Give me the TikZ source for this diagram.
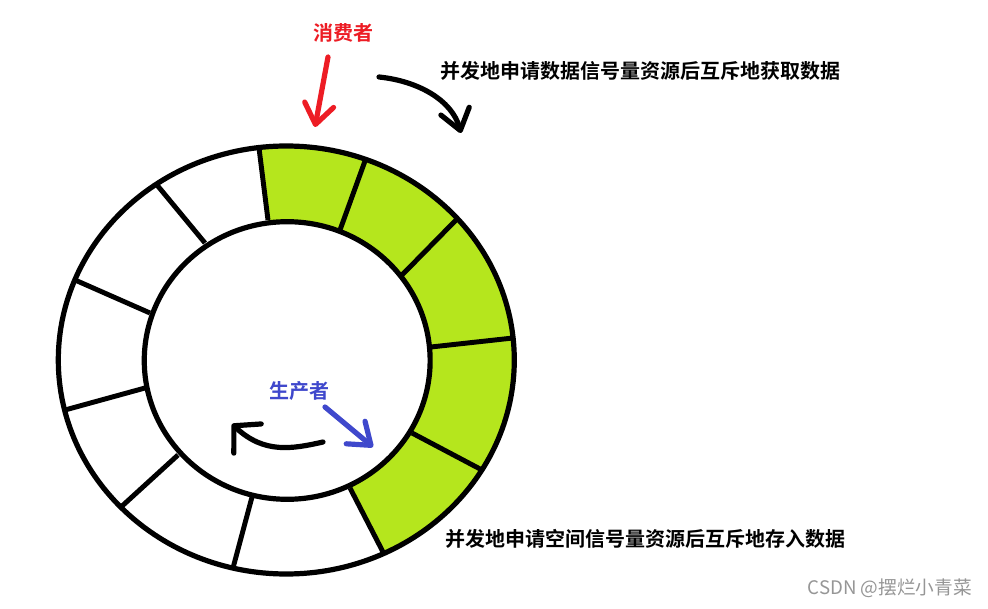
\documentclass[tikz,border=0pt]{standalone}
\usepackage{fontspec}
\setmainfont{Noto Sans CJK SC}[BoldFont={Noto Sans CJK SC Bold}]
\usetikzlibrary{arrows.meta}
\definecolor{lime}{RGB}{181,230,29}
\definecolor{pred}{RGB}{237,28,36}
\definecolor{pblue}{RGB}{63,72,204}
\definecolor{wm}{RGB}{150,150,150}
\begin{document}
\begin{tikzpicture}[x=0.75pt,y=-0.75pt,
  ring/.style={line width=3.9pt},
  divider/.style={line width=3.7pt},
  hand/.style={line width=3.9pt, line cap=round,
    -{Straight Barb[length=15pt,width=22pt,line cap=round,line join=round]}},
  widehand/.style={line width=3.9pt, line cap=round,
    -{Straight Barb[length=14pt,width=30pt,line cap=round,line join=round]}},
  lbl/.style={font=\bfseries\fontsize{15pt}{18pt}\selectfont, inner sep=0pt},
]
\useasboundingbox (0,0) rectangle (988,609);
\fill[white] (0,0) rectangle (988,609);

% ring centres
\coordinate (oc) at (286.3,360);
\coordinate (ic) at (287.2,360.5);

% divider end points (inner, outer)
\coordinate (d1i) at (268,220);  \coordinate (d1o) at (259,148);
\coordinate (d2i) at (340,230);  \coordinate (d2o) at (365,161);
\coordinate (d3i) at (402,275);  \coordinate (d3o) at (457,219);
\coordinate (d4i) at (431,347);  \coordinate (d4o) at (513,338);
\coordinate (d5i) at (412,433);  \coordinate (d5o) at (482,470);
\coordinate (d6i) at (350,488);  \coordinate (d6o) at (383,552);
\coordinate (d7i) at (252,497);  \coordinate (d7o) at (233,568);
\coordinate (d8i) at (178,455);  \coordinate (d8o) at (121,507);
\coordinate (d9i) at (145,388);  \coordinate (d9o) at (65,410);
\coordinate (d10i) at (150,313); \coordinate (d10o) at (75,280);
\coordinate (d11i) at (205,243); \coordinate (d11o) at (157,185);

% green (filled) slots
\begin{scope}
  \clip (d1i) -- (255.4,119.2) -- (375,133.4) -- (479,196.6) -- (545.8,334.4)
        -- (510,484.8) -- (396.2,577.6) -- (d6i) -- (ic) -- cycle;
  \fill[lime, even odd rule] (oc) ellipse [x radius=171pt, y radius=160.5pt]
                             (ic) ellipse [x radius=107.2pt, y radius=104.1pt];
\end{scope}

% ring outlines
\draw[ring] (oc) ellipse [x radius=171pt, y radius=160.5pt];
\draw[ring] (ic) ellipse [x radius=107.2pt, y radius=104.1pt];

% dividers
\foreach \k in {1,...,11} {
  \draw[divider] (d\k i) -- (d\k o);
}

% labels
\node[lbl, text=pred] (consumer) at (343,33) {消费者};
\node[lbl, anchor=west] (gettxt) at (440,71) {并发地申请数据信号量资源后互斥地获取数据};
\node[lbl, text=pblue] (producer) at (299,391) {生产者};
\node[lbl, anchor=west] (puttxt) at (445,538.5) {并发地申请空间信号量资源后互斥地存入数据};
\node[font=\fontsize{14pt}{16pt}\selectfont, text=wm, anchor=east, inner sep=0pt] (wmk) at (972,588) {CSDN @摆烂小青菜};

% arrows
\coordinate (ra) at (328,57);   \coordinate (rb) at (315,127);
\coordinate (ta) at (379,77);   \coordinate (tb) at (461,133);
\coordinate (ia) at (323,442);  \coordinate (ib) at (232,424);
\coordinate (ba) at (325,407);  \coordinate (bb) at (373,447);

\draw[hand, pred] (ra) -- (rb);
\draw[hand] (ta) .. controls (418,81) and (452,100) .. (tb);
\draw[widehand] (ia) .. controls (292,449) and (264,454) .. (ib);
\draw[hand, pblue] (ba) -- (bb);
\end{tikzpicture}
\end{document}
